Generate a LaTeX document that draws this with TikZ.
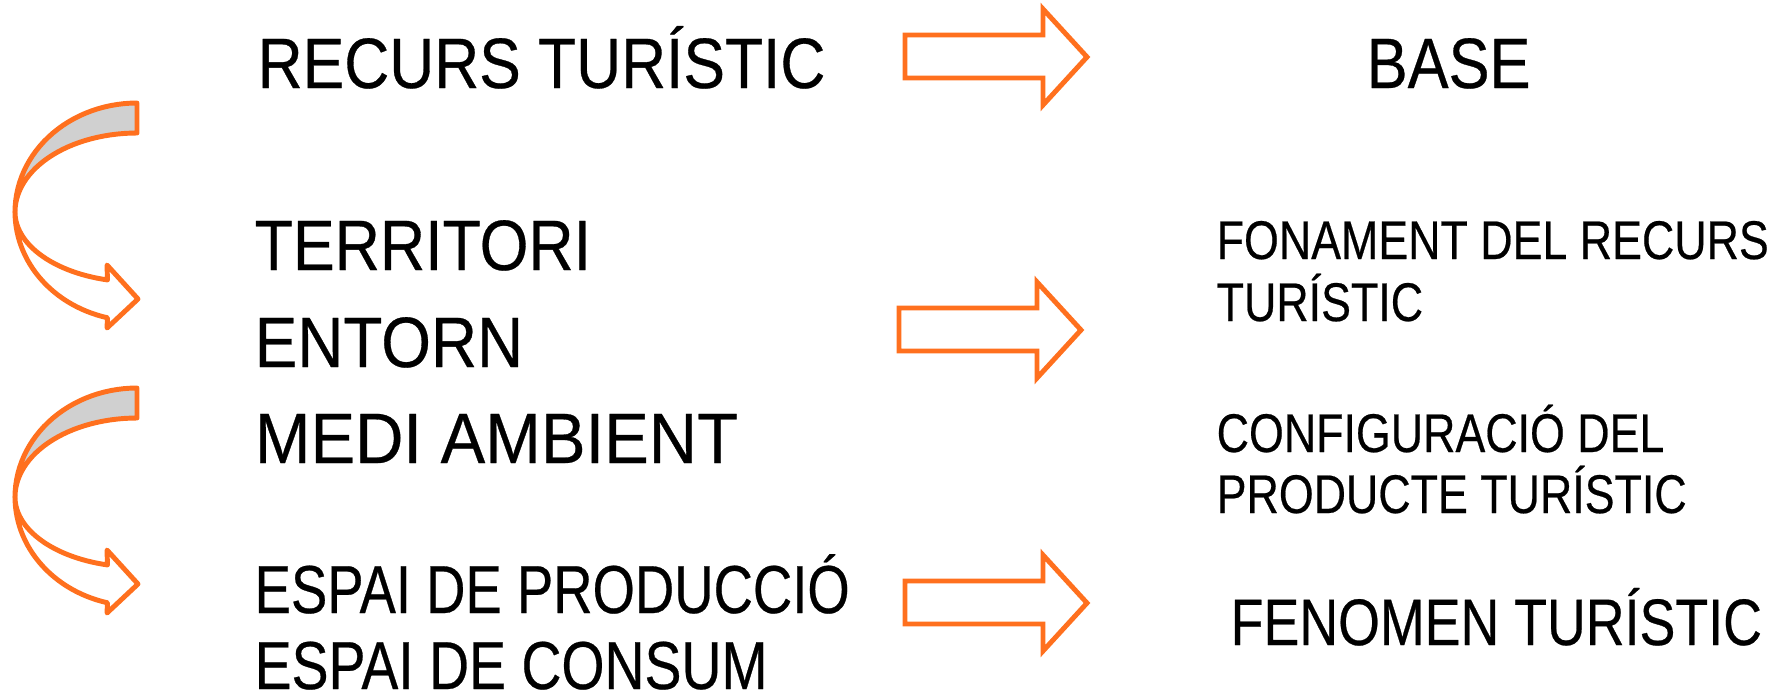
\documentclass[tikz,border=0pt]{standalone}
\usepackage{fontspec}
\setmainfont[FakeStretch=0.86, FakeBold=0.4]{Liberation Sans}
\definecolor{arroworange}{RGB}{255,112,30}
\definecolor{backgray}{RGB}{208,208,208}

\begin{document}
\begin{tikzpicture}[
			x=0.01cm, y=-0.01cm,
			block arrow/.style={draw=arroworange, line width=1.4pt, fill=white},
			curl back/.style={draw=arroworange, line width=1.4pt, fill=backgray, line join=round},
			curl front/.style={draw=arroworange, line width=1.4pt, fill=white, line join=round},
			big label/.style={anchor=base west, inner sep=0pt, transform shape, font=\fontsize{20.3}{24}\selectfont},
			mid label/.style={anchor=base west, inner sep=0pt, transform shape, font=\fontsize{19.3}{23}\selectfont},
			small label/.style={anchor=base west, inner sep=0pt, transform shape, xscale=0.955, font=\fontsize{15.5}{18.6}\selectfont}
			]
			\useasboundingbox (0,0) rectangle (1791,693);
			
			% left column
			\node[big label, xscale=1.015] (recurs) at (257,88) {RECURS TURÍSTIC};
			\node[big label, xscale=1.02] (territori) at (254,270) {TERRITORI};
			\node[big label, xscale=1.04] (entorn) at (254,367) {ENTORN};
			\node[big label, xscale=1.09] (medi) at (254,463) {MEDI AMBIENT};
			\node[mid label, xscale=0.933] (produccio) at (254,613) {ESPAI DE PRODUCCIÓ};
			\node[mid label, xscale=0.949] (consum) at (254,689) {ESPAI DE CONSUM};
			
			% right column
			\node[big label] (base) at (1366,88) {BASE};
			\node[small label] (fonament) at (1216,259) {FONAMENT DEL RECURS};
			\node[small label] (fonamentb) at (1216,321) {TURÍSTIC};
			\node[small label] (config) at (1216,452) {CONFIGURACIÓ DEL};
			\node[small label] (configb) at (1216,513) {PRODUCTE TURÍSTIC};
			\node[big label, xscale=0.95, font=\fontsize{18.7}{22}\selectfont] (fenomen) at (1230,645) {FENOMEN TURÍSTIC};
			
			% block arrows
			\foreach \dx/\dy in {0/0, -6/273, 0/546} {
				\begin{scope}[shift={(\dx,\dy)}]
					\draw[block arrow] (905,35) -- (1043,35) -- (1043,9) -- (1087,57)
						-- (1043,105) -- (1043,78) -- (905,78) -- cycle;
				\end{scope}
			}
			
			% curved arrows
			\foreach \dy in {0, 285} {
				\begin{scope}[shift={(0,\dy)}]
					\draw[curl back] plot[domain=90:180, samples=30] ({137+122*cos(\x)},{212-109*sin(\x)})
						-- plot[domain=180:90, samples=30] ({137+122*cos(\x)},{212-79*sin(\x)}) -- cycle;
					\draw[curl front] plot[domain=180:256, samples=30] ({137+122*cos(\x)},{212-109*sin(\x)})
						-- (107,328) -- (138,299) -- (107,265)
						-- plot[domain=256:180, samples=30] ({137+122*cos(\x)},{212-70*sin(\x)}) -- cycle;
				\end{scope}
			}
			
		\end{tikzpicture}
\end{document}
